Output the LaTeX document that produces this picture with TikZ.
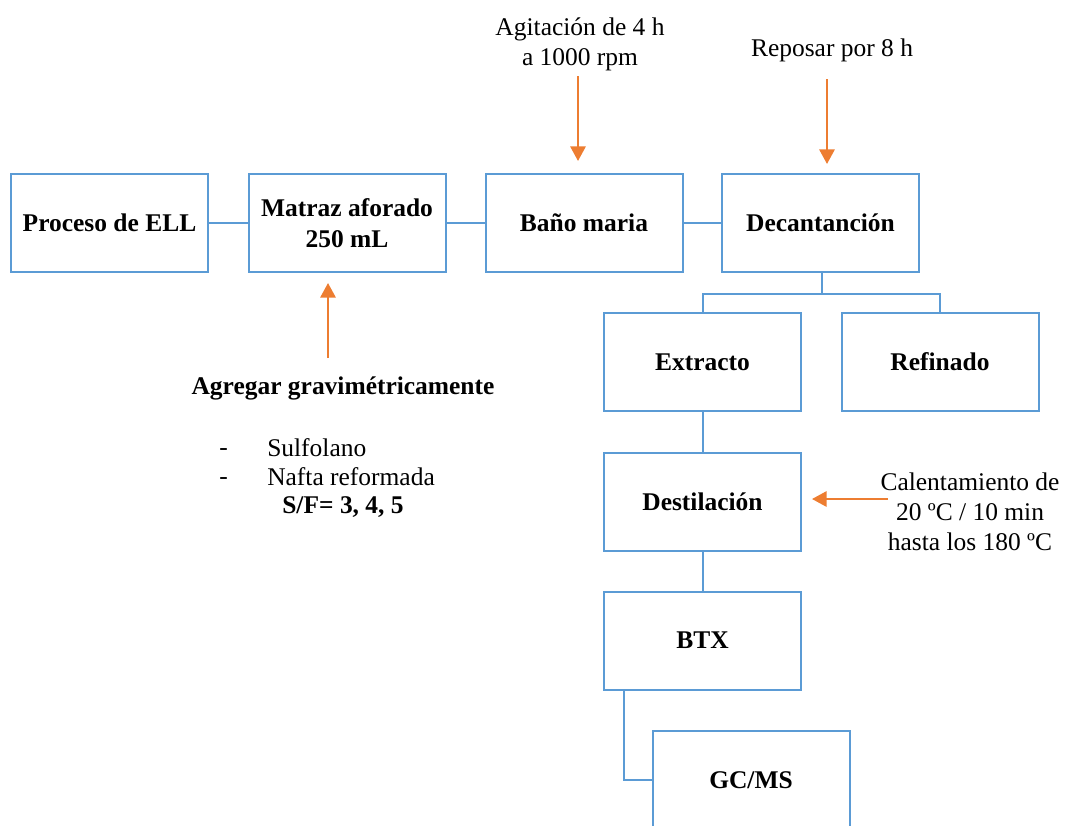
\documentclass[tikz,border=0pt]{standalone}
\usepackage{fontspec}
\setmainfont{Liberation Serif}
\usetikzlibrary{arrows.meta,calc}
\definecolor{boxblue}{HTML}{5B9BD5}
\definecolor{feedorange}{HTML}{ED7D31}
\begin{document}
\begin{tikzpicture}[x=0.75pt,y=-0.75pt,
  every node/.style={font=\fontsize{19.1}{22.5}\selectfont},
  stage/.style={draw=boxblue,line width=1.5pt,rectangle,minimum width=147.75pt,
    minimum height=73.5pt,inner sep=0pt,align=center,
    font=\fontsize{19.1}{23}\selectfont\bfseries},
  link/.style={draw=boxblue,line width=1.5pt},
  feed/.style={draw=feedorange,line width=1.6pt,-{Triangle[width=11.5pt,length=11pt]}},
  note/.style={align=center,inner sep=0pt}]
\useasboundingbox (0,0) rectangle (1066,825);
\clip (0,0) rectangle (1066,825);

% process stages
\node[stage] (ell)  at (109.5,223) {Proceso de ELL};
\node[stage] (mat)  at (347,223)   {Matraz aforado\\250 mL};
\node[stage] (bano) at (584,223)   {Baño maria};
\node[stage] (dec)  at (820.5,223) {Decantanción};
\node[stage] (ext)  at (702.5,362) {Extracto};
\node[stage] (ref)  at (940,362)   {Refinado};
\node[stage] (des)  at (702.5,501.5) {Destilación};
\node[stage] (btx)  at (702.5,640.5) {BTX};
\node[stage] (gc)   at (751,780)   {GC/MS};

% blue connectors
\draw[link] (ell.east) -- (mat.west);
\draw[link] (mat.east) -- (bano.west);
\draw[link] (bano.east) -- (dec.west);
\coordinate (split) at ($(dec.south)+(1.5,21)$);
\draw[link] ($(dec.south)+(1.5,0)$) -- (split);
\draw[link] (split) -| (ext.north);
\draw[link] (split) -| (ref.north);
\draw[link] (ext.south) -- (des.north);
\draw[link] (des.south) -- (btx.north);
\draw[link] ($(btx.south west)+(21,0)$) |- (gc.west);

% operating conditions
\node[note] (agit) at (580,44) {Agitación de 4 h\\a 1000 rpm};
\node[note] (repo) at (832,50) {Reposar por 8 h};
\node[note] (calent) at (970,512) {Calentamiento de\\20 ºC / 10 min\\hasta los 180 ºC};
\node[note,font=\fontsize{19.1}{22.5}\selectfont\bfseries] (agreg) at (343,388) {Agregar gravimétricamente};
\node[note,anchor=west] (dash1) at (219,452) {-};
\node[note,anchor=west] (dash2) at (219,481) {-};
\node[note,anchor=west] (sulf) at (267,448) {Sulfolano};
\node[note,anchor=west] (nafta) at (267,477) {Nafta reformada};
\node[note,font=\fontsize{19.1}{22.5}\selectfont\bfseries] (sf) at (343,507) {S/F= 3, 4, 5};

% orange feed arrows
\coordinate (a1) at (578,76);  \coordinate (a2) at (578,161);
\coordinate (r1) at (827,79);  \coordinate (r2) at (827,164);
\coordinate (g1) at (328,358); \coordinate (g2) at (328,283);
\coordinate (c1) at (888,499); \coordinate (c2) at (812,499);
\draw[feed] (a1) -- (a2);
\draw[feed] (r1) -- (r2);
\draw[feed] (g1) -- (g2);
\draw[feed] (c1) -- (c2);
\end{tikzpicture}
\end{document}
